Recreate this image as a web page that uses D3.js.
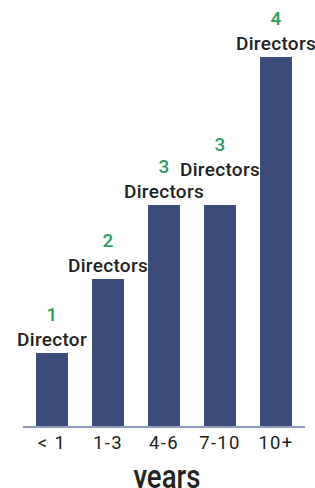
<!DOCTYPE html>
<html><head><meta charset="utf-8">
<script src="https://cdn.jsdelivr.net/npm/d3@7"></script>
<style>body{margin:0;background:#fff}svg{display:block}</style>
</head><body>
<svg id="c" width="315" height="488"></svg>
<script>
const categories = ["< 1", "1-3", "4-6", "7-10", "10+"];
const barValues = [1, 2, 3, 3, 5];
const directorCounts = [1, 2, 3, 3, 4];
const labelLift = [0, 0, 0, 22, 0];

const svg = d3.select("#c");
const x = d3.scaleBand().domain(categories).range([24, 304]).paddingInner(24 / 56).paddingOuter(12 / 56);
const y = d3.scaleLinear().domain([0, 5]).range([427, 57]);

svg.selectAll("rect.bar").data(categories).join("rect")
  .attr("class", "bar")
  .attr("x", d => x(d)).attr("width", x.bandwidth())
  .attr("y", (d, i) => y(barValues[i])).attr("height", (d, i) => y(0) - y(barValues[i]))
  .attr("fill", "#3a4d7b");

const axis = d3.axisBottom(x).tickSize(0).tickPadding(0);
const g = svg.append("g").attr("transform", `translate(0,${y(0)})`).call(axis);
g.select(".domain").attr("stroke", "#8d9aba").attr("stroke-width", 2).attr("d", "M23,0H305");
g.selectAll(".tick text").attr("font-family", "Roboto").attr("font-size", 18.5).attr("letter-spacing", 1.3)
  .attr("fill", "#222").attr("dy", 0).attr("y", 22);

const lab = svg.selectAll("g.lab").data(categories).join("g")
  .attr("class", "lab")
  .attr("transform", (d, i) => `translate(${x(d) + x.bandwidth() / 2},${y(barValues[i]) - labelLift[i]})`);
lab.append("text").attr("y", -7).attr("text-anchor", "middle")
  .attr("font-family", "Roboto").attr("font-weight", 500).attr("font-size", 19).attr("letter-spacing", 0.3).attr("fill", "#222")
  .text((d, i) => directorCounts[i] === 1 ? "Director" : "Directors");
lab.append("text").attr("y", -32).attr("text-anchor", "middle")
  .attr("font-family", "Roboto").attr("font-weight", 500).attr("font-size", 19).attr("fill", "#2a9d62")
  .text((d, i) => directorCounts[i]);

svg.append("text").attr("x", 167).attr("y", 488).attr("text-anchor", "middle")
  .attr("font-family", "Roboto").attr("font-weight", 500).attr("font-size", 33).attr("textLength", 67).attr("lengthAdjust", "spacingAndGlyphs")
  .attr("fill", "#222").text("years");
</script>
</body></html>
